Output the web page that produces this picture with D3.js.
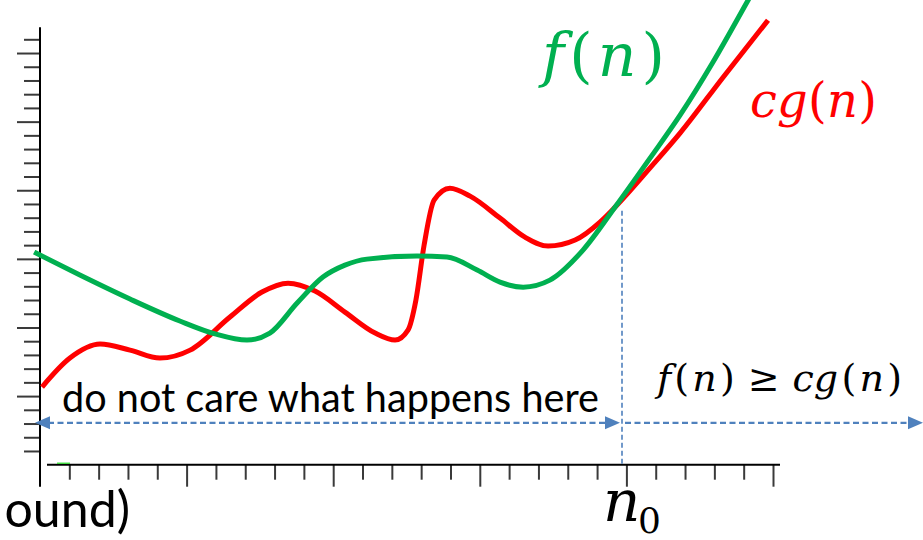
<!DOCTYPE html>
<html>
<head>
<meta charset="utf-8">
<script src="https://cdn.jsdelivr.net/npm/d3@7"></script>
<style>
  html, body { margin: 0; padding: 0; background: #fff; }
  svg { display: block; }
</style>
</head>
<body>
<svg id="chart" width="923" height="540"></svg>
<script>
// Growth comparison: f(n) against c·g(n), with the threshold n0.
const nValuesF = [-0.2, 1.36, 3.07, 4.77, 5.97, 7.06, 7.84, 8.77, 9.65, 10.4, 11.15, 12.86, 13.88, 14.91, 15.69, 16.48, 17.39, 18.52, 19.61, 20.8, 21.83, 22.95, 24.15, 24.4];
const fValues  = [15.49, 13.82, 12.07, 10.47, 9.53, 9.08, 9.59, 11.78, 13.67, 14.54, 14.98, 15.2, 15.13, 14.18, 13.3, 12.94, 13.45, 15.64, 18.76, 22.32, 25.47, 29.33, 33.85, 34.8];

const nValuesG = [0.07, 1.02, 2.05, 3.07, 4.09, 5.12, 6.48, 7.57, 8.46, 9.38, 10.4, 11.43, 12.11, 12.55, 12.82, 13.1, 13.44, 13.98, 14.67, 15.69, 16.54, 17.33, 18.25, 19.1, 19.61, 20.8, 21.83, 23.3, 24.83];
const cgValues = [5.66, 7.77, 8.79, 8.35, 7.77, 8.35, 10.76, 12.58, 13.23, 12.65, 11.12, 9.59, 9.08, 9.81, 11.99, 16.0, 19.28, 20.15, 19.57, 17.97, 16.58, 15.93, 16.37, 17.68, 18.76, 21.61, 24.16, 28.24, 32.39];

const n0 = 19.85;          // threshold where f(n) overtakes c·g(n)
const crossValue = 18.5;   // height of the crossing
const arrowLevel = 3.05;   // height of the range arrows

const xTicks = d3.range(1, 26);
const yTicks = d3.range(1, 32);
const xMajor = xTicks.filter(d => d % 5 === 0);
const yMajor = yTicks.filter(d => d % 5 === 0);

const svg = d3.select("#chart");
const x = d3.scaleLinear().domain([0, 25]).range([40, 773]);
const y = d3.scaleLinear().domain([0, 31]).range([464.7, 39.3]);

const axisColor = "#000";
const tickColor = "#3a3a3a";
const blue = "#4f81bd";
const green = "#00b050";
const red = "#ff0000";

// ---- y axis ----
const yMinor = svg.append("g").attr("transform", `translate(${x(0)},0)`)
  .call(d3.axisLeft(y).tickValues(yTicks.filter(d => d % 5 !== 0)).tickSize(16).tickFormat(""));
const yMaj = svg.append("g").attr("transform", `translate(${x(0)},0)`)
  .call(d3.axisLeft(y).tickValues(yMajor).tickSize(23).tickFormat(""));
[yMinor, yMaj].forEach(g => {
  g.select(".domain").remove();
  g.selectAll("line").attr("stroke", tickColor).attr("stroke-width", 2);
});
svg.append("line")
  .attr("x1", x(0)).attr("x2", x(0))
  .attr("y1", y(31) - 12).attr("y2", y(0) + 22)
  .attr("stroke", axisColor).attr("stroke-width", 2);

// ---- x axis ----
const xMinorG = svg.append("g").attr("transform", `translate(0,${y(0)})`)
  .call(d3.axisBottom(x).tickValues(xTicks.filter(d => d % 5 !== 0)).tickSize(15).tickFormat(""));
const xMajG = svg.append("g").attr("transform", `translate(0,${y(0)})`)
  .call(d3.axisBottom(x).tickValues(xMajor).tickSize(22).tickFormat(""));
[xMinorG, xMajG].forEach(g => {
  g.select(".domain").remove();
  g.selectAll("line").attr("stroke", tickColor).attr("stroke-width", 2);
});
svg.append("line")
  .attr("x1", x(0) + 7).attr("x2", x(25) + 7)
  .attr("y1", y(0)).attr("y2", y(0))
  .attr("stroke", axisColor).attr("stroke-width", 2);

// tiny green stub near the origin
svg.append("line")
  .attr("x1", x(0) + 17).attr("x2", x(0) + 30)
  .attr("y1", y(0) - 1.5).attr("y2", y(0) - 1.5)
  .attr("stroke", "#22dd22").attr("stroke-width", 1.2);

// ---- curves ----
const line = d3.line()
  .x(d => x(d[0])).y(d => y(d[1]))
  .curve(d3.curveMonotoneX);

const fData = nValuesF.map((n, i) => [n, fValues[i]]);
const gData = nValuesG.map((n, i) => [n, cgValues[i]]);

svg.append("path").datum(gData)
  .attr("d", line).attr("fill", "none")
  .attr("stroke", red).attr("stroke-width", 5).attr("stroke-linecap", "butt");
svg.append("path").datum(fData)
  .attr("d", line).attr("fill", "none")
  .attr("stroke", green).attr("stroke-width", 5).attr("stroke-linecap", "butt");

// ---- n0 marker ----
svg.append("line")
  .attr("x1", x(n0)).attr("x2", x(n0))
  .attr("y1", y(crossValue)).attr("y2", y(0))
  .attr("stroke", blue).attr("stroke-width", 1.6).attr("stroke-dasharray", "5,3");

// ---- range arrows ----
const ay = y(arrowLevel);
function head(tipX, dir) {
  const b = tipX - dir * 15;
  svg.append("path")
    .attr("d", `M${tipX},${ay} L${b},${ay - 6.5} L${b},${ay + 6.5} Z`)
    .attr("fill", blue);
}
svg.append("line")
  .attr("x1", x(0) + 8).attr("x2", x(n0) - 14)
  .attr("y1", ay).attr("y2", ay)
  .attr("stroke", blue).attr("stroke-width", 2.4).attr("stroke-dasharray", "6,3.5");
head(x(0) - 5, -1);
head(x(n0) - 2, 1);
svg.append("line")
  .attr("x1", x(n0) + 3).attr("x2", 910)
  .attr("y1", ay).attr("y2", ay)
  .attr("stroke", blue).attr("stroke-width", 2.4).attr("stroke-dasharray", "6,3.5");
head(923, 1);

// ---- text ----
const sans = "Lato, 'Open Sans', sans-serif";
const serif = "'DejaVu Serif', 'Liberation Serif', serif";

svg.append("text")
  .attr("x", 62).attr("y", 412)
  .attr("font-family", sans).attr("font-size", 40)
  .attr("textLength", 537).attr("lengthAdjust", "spacingAndGlyphs")
  .attr("fill", "#000")
  .text("do not care what happens here");

svg.append("text")
  .attr("x", 130).attr("y", 527).attr("text-anchor", "end")
  .attr("font-family", sans).attr("font-size", 50)
  .attr("fill", "#000")
  .text("ound)");

// Math-style label: italic symbols, upright brackets, laid out piece by piece.
// Each part is [text, italic, spacing weight before it]; the leftover width
// is shared out according to those weights.
function mathLabel(parts, xPos, yPos, size, color, width) {
  const g = svg.append("g").attr("fill", color)
    .attr("font-family", serif).attr("font-size", size);
  const nodes = parts.map(p => g.append("text")
    .attr("y", yPos)
    .attr("font-style", p[1] ? "italic" : "normal")
    .text(p[0]));
  const widths = nodes.map(n => n.node().getComputedTextLength());
  const total = d3.sum(widths);
  const weights = parts.map((p, i) => i === 0 ? 0 : (p[2] || 1));
  const unit = Math.max(0, width - total) / d3.sum(weights);
  let cx = xPos;
  nodes.forEach((n, i) => { cx += weights[i] * unit; n.attr("x", cx); cx += widths[i]; });
  return g;
}

mathLabel([["f", true], ["(", false], ["n", true], [")", false]], 542, 76, 60, green, 123);
mathLabel([["cg", true], ["(", false], ["n", true], [")", false]], 750, 117, 48, red, 127);
mathLabel([["f", true], ["(", false], ["n", true], [")", false], ["≥", false, 4],
           ["cg", true, 4], ["(", false], ["n", true], [")", false]], 657, 391, 38, "#000", 245);

// n0 label under the axis
svg.append("text")
  .attr("x", 603).attr("y", 521)
  .attr("font-family", serif).attr("font-size", 58).attr("font-style", "italic")
  .attr("fill", "#000").text("n");
svg.append("text")
  .attr("x", 638).attr("y", 533)
  .attr("font-family", serif).attr("font-size", 36)
  .attr("fill", "#000").text("0");
</script>
</body>
</html>
